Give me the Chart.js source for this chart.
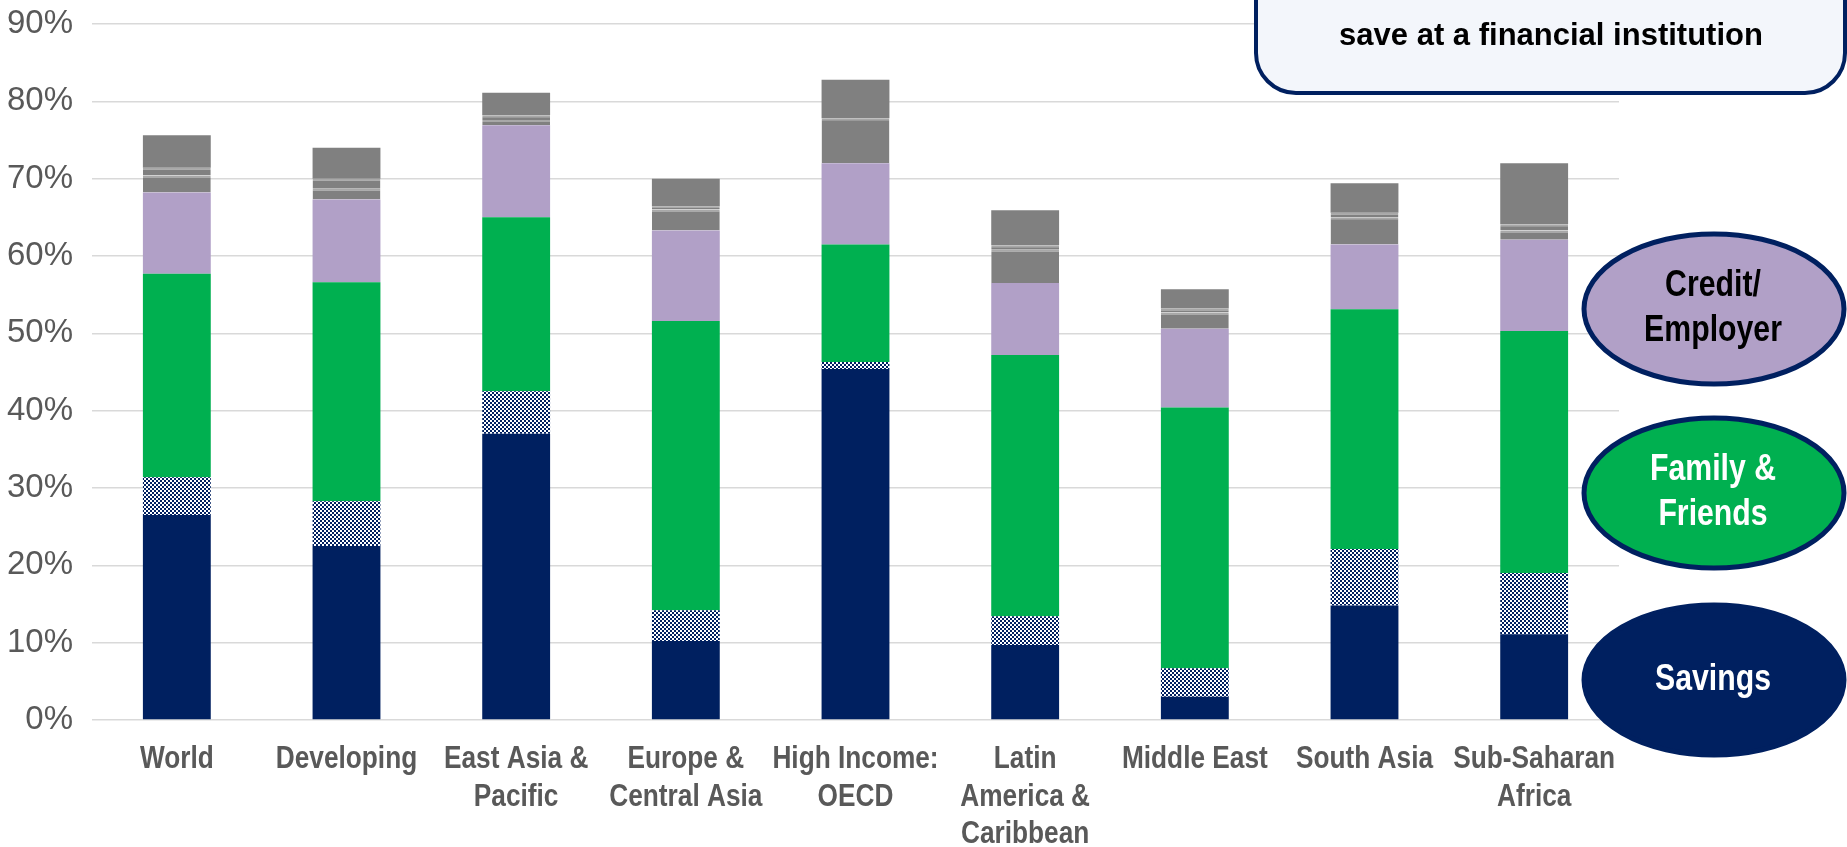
<!DOCTYPE html>
<html>
<head>
<meta charset="utf-8">
<script src="https://cdn.jsdelivr.net/npm/chart.js@4.4.1/dist/chart.umd.min.js"></script>
<style>
  html, body { margin: 0; padding: 0; background: #fff; }
  #wrap { width: 1847px; height: 847px; }
</style>
</head>
<body>
<div id="wrap"><canvas id="myChart" width="1847" height="847"></canvas></div>
<script>
const categories = [
    ['World'], ['Developing'], ['East Asia &', 'Pacific'], ['Europe &', 'Central Asia'],
    ['High Income:', 'OECD'], ['Latin', 'America &', 'Caribbean'], ['Middle East'],
    ['South Asia'], ['Sub-Saharan', 'Africa']
];

// shares of adults (%), stacked bottom to top
const savings      = [26.5, 22.5, 37.0, 10.2, 45.4,  9.7,  3.0, 14.8, 11.1];
const savingsOther = [ 4.9,  5.8,  5.5,  4.0,  0.9,  3.7,  3.7,  7.3,  7.9];
const family       = [26.3, 28.3, 22.5, 37.4, 15.2, 33.8, 33.7, 31.0, 31.3];
const credit       = [10.5, 10.7, 11.9, 11.7, 10.5,  9.3, 10.2,  8.4, 11.8];
const otherLow     = [ 2.2,  1.4,  0.7,  2.7,  5.8,  4.3,  2.1,  3.5,  1.2];
const otherMid     = [ 1.0,  1.3,  0.6,  0.4,  0.0,  0.6,  0.5,  0.6,  0.8];
const otherTop     = [ 4.2,  4.0,  2.9,  3.6,  5.0,  4.5,  2.5,  3.8,  7.9];

const yTicks = [0, 10, 20, 30, 40, 50, 60, 70, 80, 90];

const NAVY = '#002060';
const GREEN = '#00B050';
const LILAC = '#B1A0C7';
const GREY = '#808080';
const SANS = "'Liberation Sans', Arial, sans-serif";

// small checker tile for the hatched segment
function checkerPattern() {
    const c = document.createElement('canvas');
    c.width = 4; c.height = 4;
    const g = c.getContext('2d');
    g.fillStyle = '#ffffff';
    g.fillRect(0, 0, 4, 4);
    g.fillStyle = NAVY;
    g.fillRect(0, 0, 2, 2);
    g.fillRect(2, 2, 2, 2);
    return g.createPattern(c, 'repeat');
}

// bold text squeezed horizontally (no narrow face installed)
function narrowText(ctx, text, x, y, squeeze) {
    ctx.save();
    ctx.translate(x, y);
    ctx.scale(squeeze, 1);
    ctx.fillText(text, 0, 0);
    ctx.restore();
}

// category labels, side labels and the heading box
const overlay = {
    id: 'overlay',
    afterDraw(chart) {
        const ctx = chart.ctx;
        const xs = chart.scales.x;
        ctx.save();

        // category labels under the bars
        ctx.fillStyle = '#595959';
        ctx.font = 'bold 32px ' + SANS;
        ctx.textAlign = 'center';
        ctx.textBaseline = 'middle';
        categories.forEach((lines, i) => {
            const x = xs.getPixelForValue(i);
            lines.forEach((t, j) => narrowText(ctx, t, x, chart.chartArea.bottom + 39 + j * 37.7, 0.82));
        });

        // heading box, cut at the top edge
        ctx.beginPath();
        ctx.roundRect(1256, -80, 589, 173, 40);
        ctx.fillStyle = '#F3F6FB';
        ctx.fill();
        ctx.lineWidth = 4;
        ctx.strokeStyle = NAVY;
        ctx.stroke();
        ctx.fillStyle = '#000';
        ctx.font = 'bold 31px ' + SANS;
        ctx.textBaseline = 'alphabetic';
        ctx.fillText('Sources for adults who do not', 1551, -1);
        ctx.fillText('save at a financial institution', 1551, 45);

        const ovals = [
            { y: 309, fill: LILAC, color: '#000', lines: ['Credit/', 'Employer'] },
            { y: 493, fill: GREEN, color: '#fff', lines: ['Family &', 'Friends'] },
            { y: 680, fill: NAVY,  color: '#fff', lines: ['Savings'] }
        ];
        ovals.forEach(o => {
            ctx.beginPath();
            ctx.ellipse(1714, o.y, 130, 75, 0, 0, Math.PI * 2);
            ctx.fillStyle = o.fill;
            ctx.fill();
            ctx.lineWidth = 5;
            ctx.strokeStyle = NAVY;
            ctx.stroke();
            ctx.fillStyle = o.color;
            ctx.font = 'bold 36px ' + SANS;
            ctx.textBaseline = 'middle';
            const step = 45;
            const y0 = o.y - (o.lines.length - 1) * step / 2;
            o.lines.forEach((t, i) => narrowText(ctx, t, 1713, y0 + i * step, 0.84));
        });
        ctx.restore();
    }
};

const ctx = document.getElementById('myChart').getContext('2d');
var myChart = new Chart(ctx, {
    type: 'bar',
    data: {
        labels: categories,
        datasets: [{
            label: 'Savings',
            data: savings,
            backgroundColor: NAVY
        }, {
            label: 'Savings, other',
            data: savingsOther,
            backgroundColor: checkerPattern()
        }, {
            label: 'Family & Friends',
            data: family,
            backgroundColor: GREEN
        }, {
            label: 'Credit/Employer',
            data: credit,
            backgroundColor: LILAC
        }, {
            label: 'Other 1',
            data: otherLow,
            backgroundColor: GREY,
            borderColor: '#a8a8a8',
            borderWidth: { top: 2, right: 0, bottom: 0, left: 0 }
        }, {
            label: 'Other 2',
            data: otherMid,
            backgroundColor: GREY,
            borderColor: '#a8a8a8',
            borderWidth: { top: 2, right: 0, bottom: 0, left: 0 }
        }, {
            label: 'Other 3',
            data: otherTop,
            backgroundColor: GREY
        }]
    },
    options: {
        responsive: false,
        animation: false,
        devicePixelRatio: 1,
        layout: { padding: { top: 24, right: 228, bottom: 0, left: 0 } },
        datasets: {
            bar: { categoryPercentage: 1.0, barPercentage: 0.4, borderSkipped: false }
        },
        plugins: {
            legend: { display: false },
            tooltip: { enabled: false }
        },
        scales: {
            x: {
                stacked: true,
                grid: { display: false, drawTicks: false },
                border: { display: false },
                ticks: { display: false },
                afterFit(axis) { axis.height = 127; }
            },
            y: {
                stacked: true,
                min: 0,
                max: 90,
                afterBuildTicks(axis) { axis.ticks = yTicks.map(v => ({ value: v })); },
                grid: { color: '#d9d9d9', lineWidth: 1.5, drawTicks: false },
                border: { display: false },
                ticks: {
                    color: '#595959',
                    padding: 19,
                    font: { family: SANS, size: 33 },
                    callback: v => v + '%'
                },
                afterFit(axis) {
                    axis.width = 92;
                    axis.paddingTop = 0;
                    axis.paddingBottom = 0;
                }
            }
        }
    },
    plugins: [overlay]
});
</script>
</body>
</html>
